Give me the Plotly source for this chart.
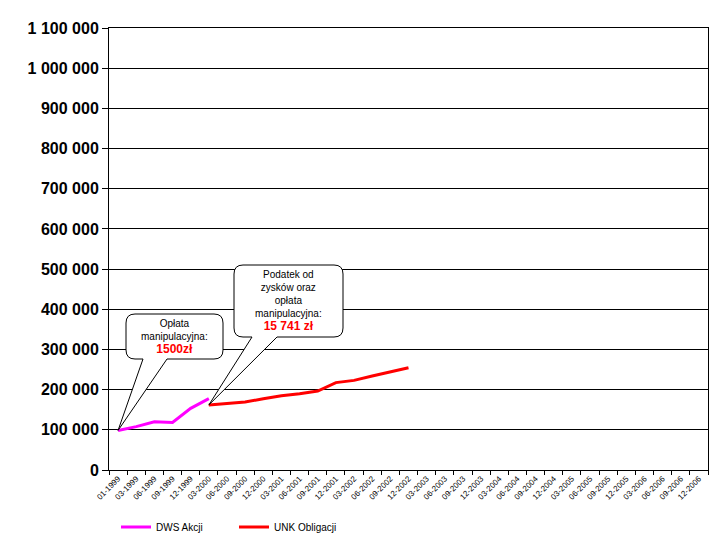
import plotly.graph_objects as go

# ---- data ----
labels = ["01-1999"]
for yr in range(1999, 2007):
    for m in ["03", "06", "09", "12"]:
        labels.append(f"{m}-{yr}")
labels = labels[:33]
dws_values = [98500, 108000, 120000, 118500, 153500, 177500]
unk_values = [161800, 165000, 169000, 177500, 185000, 190000, 196500, 217500, 223000, 234000, 244500, 254600]
unk_start = 5

dws_y = dws_values + [None] * (len(labels) - len(dws_values))
unk_y = [None] * unk_start + unk_values + [None] * (len(labels) - unk_start - len(unk_values))

y_ticks = list(range(0, 1100001, 100000))

# ---- layout geometry (pixels) ----
W, H = 720, 540
L, R, T, B = 109, 12, 28, 70
PW, PH = W - L - R, H - T - B
YMAX = 1100000
N = len(labels)

def px_x(p):
    return (p - L) / PW

def px_y(p):
    return (H - B - p) / PH

def cat_x(i):
    return (i + 0.5) / N

fig = go.Figure()
fig.add_trace(go.Scatter(x=labels, y=dws_y, mode="lines", name="DWS Akcji",
                         line=dict(color="#FF00FF", width=3), connectgaps=False))
fig.add_trace(go.Scatter(x=labels, y=unk_y, mode="lines", name="UNK Obligacji",
                         line=dict(color="#FF0000", width=3), connectgaps=False))


def bubble(x0, x1, ytop, ybot, b0, b1, tip_x, tip_y, r=9):
    X0, X1 = px_x(x0), px_x(x1)
    YT, YB = px_y(ytop), px_y(ybot)
    rx, ry = r / PW, r / PH
    B0, B1 = px_x(b0), px_x(b1)
    p = []
    p.append(f"M{X0+rx},{YT}")
    p.append(f"L{X1-rx},{YT}")
    p.append(f"Q{X1},{YT} {X1},{YT-ry}")
    p.append(f"L{X1},{YB+ry}")
    p.append(f"Q{X1},{YB} {X1-rx},{YB}")
    p.append(f"L{B1},{YB}")
    p.append(f"L{tip_x},{tip_y}")
    p.append(f"L{B0},{YB}")
    p.append(f"L{X0+rx},{YB}")
    p.append(f"Q{X0},{YB} {X0},{YB+ry}")
    p.append(f"L{X0},{YT-ry}")
    p.append(f"Q{X0},{YT} {X0+rx},{YT}")
    p.append("Z")
    return dict(type="path", xref="paper", yref="paper", path=" ".join(p),
                line=dict(color="black", width=1), fillcolor="white", layer="above")

shapes = [
    bubble(126, 223, 314, 359, 143, 167, cat_x(0), dws_values[0] / YMAX),
    bubble(234, 343, 265, 337, 252, 277, cat_x(unk_start), unk_values[0] / YMAX),
]

fnt = "Arial, 'Liberation Sans', sans-serif"
annotations = [
    dict(xref="paper", yref="paper", x=px_x(174.5), y=px_y(337), showarrow=False,
         xanchor="center", yanchor="middle",
         text="Opłata<br>manipulacyjna:<br><span style='color:#FF0000;font-size:12px'><b>1500zł</b></span>",
         font=dict(family=fnt, size=10, color="black"), align="center"),
    dict(xref="paper", yref="paper", x=px_x(288.5), y=px_y(301), showarrow=False,
         xanchor="center", yanchor="middle",
         text="Podatek od<br>zysków oraz<br>opłata<br>manipulacyjna:<br><span style='color:#FF0000;font-size:12px'><b>15 741 zł</b></span>",
         font=dict(family=fnt, size=10, color="black"), align="center"),
]

fig.update_layout(
    width=W, height=H,
    margin=dict(l=L, r=R, t=T, b=B, pad=0, autoexpand=False),
    paper_bgcolor="white", plot_bgcolor="white",
    separators=". ",
    font=dict(family=fnt, color="black"),
    shapes=shapes, annotations=annotations,
    legend=dict(orientation="h", x=px_x(116), y=px_y(527), xanchor="left", yanchor="middle",
                font=dict(family=fnt, size=10, color="black"),
                entrywidth=73, entrywidthmode="pixels", itemwidth=30,
                bgcolor="rgba(0,0,0,0)"),
    xaxis=dict(type="category", categoryorder="array", categoryarray=labels,
               range=[-0.5, N - 0.5], tickson="boundaries", automargin=False,
               ticks="outside", ticklen=4, tickcolor="black", tickwidth=1,
               tickangle=-45, tickfont=dict(family=fnt, size=8, color="black"),
               showline=True, linecolor="black", linewidth=1, mirror=True,
               showgrid=False, zeroline=False),
    yaxis=dict(range=[0, YMAX], tickvals=y_ticks, tickformat=",d", automargin=False,
               ticks="outside", ticklen=6, tickcolor="black", tickwidth=1,
               tickfont=dict(family=fnt, size=16, color="black", weight="bold"),
               showline=True, linecolor="black", linewidth=1, mirror=True,
               showgrid=True, gridcolor="black", gridwidth=1, zeroline=False),
)

fig.write_html("out.html")
